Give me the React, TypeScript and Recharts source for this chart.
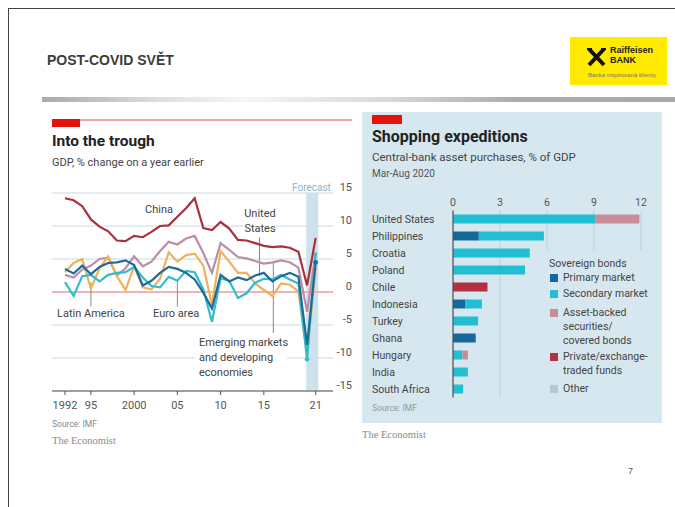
import React from 'react';
import {
  LineChart, Line, XAxis, YAxis, CartesianGrid, ReferenceLine, ReferenceArea,
  BarChart, Bar,
} from 'recharts';

const FONT = 'Roboto, "Liberation Sans", sans-serif';

// GDP, % change on a year earlier
const years = [1992, 1993, 1994, 1995, 1996, 1997, 1998, 1999, 2000, 2001, 2002, 2003, 2004, 2005, 2006,
  2007, 2008, 2009, 2010, 2011, 2012, 2013, 2014, 2015, 2016, 2017, 2018, 2019, 2020, 2021];
const china = [14.2, 13.9, 13.0, 11.0, 9.9, 9.2, 7.8, 7.7, 8.5, 8.3, 9.1, 10.0, 10.1, 11.4, 12.7,
  14.2, 9.7, 9.4, 10.6, 9.6, 7.9, 7.8, 7.4, 7.0, 6.8, 6.9, 6.7, 6.1, 1.0, 8.2];
const emde = [2.6, 2.2, 3.4, 4.0, 5.0, 5.2, 2.5, 3.6, 5.4, 3.9, 4.6, 6.2, 7.6, 7.2, 8.1,
  8.5, 5.9, 2.9, 7.4, 6.4, 5.3, 5.1, 4.7, 4.3, 4.5, 4.8, 4.5, 3.7, -3.0, 5.9];
const latam = [3.0, 4.4, 5.0, 0.5, 3.6, 5.4, 2.4, 0.3, 3.9, 0.7, 0.4, 2.0, 6.0, 4.6, 5.6,
  5.8, 4.0, -2.0, 6.2, 4.6, 2.9, 2.9, 1.3, 0.3, -0.6, 1.3, 1.1, 0.1, -9.4, 3.7];
const euro = [1.5, -0.6, 2.4, 2.6, 1.6, 2.6, 2.9, 3.0, 3.8, 2.2, 0.9, 0.7, 2.3, 1.7, 3.2,
  3.0, 0.4, -4.5, 2.1, 1.7, -0.9, -0.2, 1.4, 2.0, 1.9, 2.6, 1.9, 1.3, -10.2, 6.0];
const us = [3.5, 2.8, 4.0, 2.7, 3.8, 4.4, 4.5, 4.8, 4.1, 1.0, 1.7, 2.9, 3.8, 3.5, 2.9,
  1.9, -0.1, -2.5, 2.6, 1.6, 2.2, 1.8, 2.5, 2.9, 1.6, 2.4, 2.9, 2.3, -8.0, 4.5];
const yearTicks = [1992, 1995, 2000, 2005, 2010, 2015, 2021];
const gdpTicks = [-15, -10, -5, 0, 5, 10, 15];

// Central-bank asset purchases, % of GDP, Mar-Aug 2020
const countries = ['United States', 'Philippines', 'Croatia', 'Poland', 'Chile', 'Indonesia',
  'Turkey', 'Ghana', 'Hungary', 'India', 'South Africa'];
const primary = [0, 1.65, 0, 0, 0, 0.8, 0, 1.45, 0, 0, 0];
const secondary = [9.1, 4.15, 4.9, 4.6, 0, 1.05, 1.6, 0, 0.6, 0.95, 0.65];
const assetBacked = [2.8, 0, 0, 0, 0, 0, 0, 0, 0.35, 0, 0];
const privateFunds = [0, 0, 0, 0, 2.2, 0, 0, 0, 0, 0, 0];
const shareTicks = [0, 3, 6, 9, 12];

const gdpData = years.map((year, i) => ({
  year, china: china[i], emde: emde[i], latam: latam[i], euro: euro[i], us: us[i],
}));
const buyData = countries.map((country, i) => ({
  country, primary: primary[i], secondary: secondary[i], abs: assetBacked[i], priv: privateFunds[i],
}));

const C = {
  china: '#a8303f', emde: '#bd8ca5', latam: '#efb15a', euro: '#2fbccd', us: '#1c6c97',
  primary: '#17689a', secondary: '#22bfd3', abs: '#c98c99', priv: '#b2303f', other: '#b5c8d2',
};

const Txt = ({ x, y, size, children, color = '#333', bold = false, family = FONT, center = false, bg }: any) => (
  <div style={{
    position: 'absolute', left: x, top: y - 0.85 * size, fontSize: size, lineHeight: `${size}px`,
    fontFamily: family, fontWeight: bold ? 700 : 400, color, whiteSpace: 'nowrap',
    transform: center ? 'translateX(-50%)' : undefined, background: bg, zIndex: 3,
  }}>{children}</div>
);

const endDot = (yr: number, color: string) => (p: any) =>
  p.payload.year === yr
    ? <circle key={p.index} cx={p.cx} cy={p.cy} r={2.3} fill={color} stroke="none" />
    : <g key={p.index} />;

const GdpTick = ({ y, payload }: any) => (
  <text x={312} y={y - 2} textAnchor="end" fontSize={11} fill="#555" fontFamily={FONT}>{payload.value}</text>
);

const CountryTick = ({ y, payload }: any) => (
  <text x={9} y={y} dy="0.35em" textAnchor="start" fontSize={10.5} fill="#444" fontFamily={FONT}>{payload.value}</text>
);

const ShareTick = ({ x, payload }: any) => (
  <text x={x} y={16} textAnchor="middle" fontSize={10.5} fill="#555" fontFamily={FONT}>{payload.value}</text>
);

const LegendRow = ({ y, color, lines }: { y: number; color: string; lines: string[] }) => (
  <>
    <div style={{ position: 'absolute', left: 550, top: y - 4, width: 8, height: 8, background: color, zIndex: 3 }} />
    {lines.map((l, i) => <Txt key={l} x={563} y={y + 4 + i * 14} size={10.5} color="#444">{l}</Txt>)}
  </>
);

export default function App() {
  return (
    <div style={{ position: 'fixed', left: 0, top: 0, width: 675, height: 507, overflow: 'hidden', background: '#fff' }}>
      <div style={{ position: 'absolute', left: 8, top: 8, width: 690, height: 520, border: '1px solid #444' }} />

      <Txt x={47} y={65} size={14} bold color="#3c3c3c" family='"Liberation Sans", Arial, sans-serif'>POST-COVID SVĚT</Txt>

      <div style={{ position: 'absolute', left: 570, top: 37, width: 97, height: 48, background: '#ffea00' }}>
        <svg width={97} height={48} style={{ position: 'absolute', left: 0, top: 0 }}>
          <path d="M19 12 L34 28 M34 12 L19 28" stroke="#111" strokeWidth={4} />
          <path d="M17 12 L22 12 M31 12 L36 12" stroke="#111" strokeWidth={2} />
        </svg>
        <div style={{ position: 'absolute', left: 40, top: 9, fontSize: 9, fontWeight: 700, fontFamily: '"Liberation Sans", sans-serif', lineHeight: '9px', color: '#222' }}>Raiffeisen</div>
        <div style={{ position: 'absolute', left: 40, top: 19, fontSize: 9, fontWeight: 700, fontFamily: '"Liberation Sans", sans-serif', lineHeight: '9px', color: '#222' }}>BANK</div>
        <div style={{ position: 'absolute', left: 18, top: 35, fontSize: 6, color: '#777', fontFamily: '"Liberation Sans", sans-serif', lineHeight: '6px', whiteSpace: 'nowrap' }}>Banka inspirovaná klienty</div>
      </div>

      <div style={{
        position: 'absolute', left: 42, top: 97, width: 633, height: 5,
        background: 'linear-gradient(to right, #a9a9a9 0%, #e2e2e2 20%, #f6f6f6 32%, #d8d8d8 55%, #ababab 75%, #aaaaaa 100%)',
      }} />

      {/* Left chart: Into the trough */}
      <div style={{ position: 'absolute', left: 52, top: 119, width: 28, height: 8, background: '#e3120b' }} />
      <div style={{ position: 'absolute', left: 80, top: 119, width: 272, height: 1.5, background: '#f2a2a2' }} />
      <Txt x={52} y={147} size={15.5} bold color="#222">Into the trough</Txt>
      <Txt x={52} y={166} size={11} color="#444">GDP, % change on a year earlier</Txt>
      <Txt x={292} y={191} size={10} color="#8db3c8">Forecast</Txt>

      <div style={{ position: 'absolute', left: 40, top: 180 }}>
        <LineChart width={320} height={240} data={gdpData} margin={{ top: 13, right: 0, bottom: 0, left: 12 }}>
          <CartesianGrid vertical={false} stroke="#c9d9e1" strokeWidth={1} />
          <ReferenceArea x1={2019.9} x2={2021.3} y1={-15} y2={15} fill="#cfe2ec" fillOpacity={1} stroke="none" />
          <XAxis type="number" dataKey="year" domain={[1990.5, 2023]} ticks={yearTicks} allowDataOverflow
            tickFormatter={(v: number) => (v === 1992 || v === 2000 ? String(v) : String(v).slice(2))}
            axisLine={{ stroke: '#555' }} tickLine={{ stroke: '#555' }} tickSize={4} tickMargin={6} height={29}
            tick={{ fontSize: 11, fill: '#555', fontFamily: FONT }} interval={0} />
          <YAxis orientation="right" type="number" domain={[-15, 15]} ticks={gdpTicks} width={27}
            axisLine={false} tickLine={false} tick={<GdpTick />} interval={0} />
          <ReferenceLine y={0} stroke="#f3a0a0" strokeWidth={1.5} />
          <ReferenceLine segment={[{ x: 1995, y: 1.5 }, { x: 1995, y: -2.2 }]} stroke="#888" />
          <ReferenceLine segment={[{ x: 2005, y: 1.8 }, { x: 2005, y: -2.2 }]} stroke="#888" />
          <ReferenceLine segment={[{ x: 2014.5, y: 8.3 }, { x: 2014.5, y: 2.4 }]} stroke="#888" />
          <ReferenceLine segment={[{ x: 2016.1, y: 4.5 }, { x: 2016.1, y: -6.4 }]} stroke="#888" />
          <Line dataKey="emde" stroke={C.emde} strokeWidth={2.2} dot={false} isAnimationActive={false} />
          <Line dataKey="latam" stroke={C.latam} strokeWidth={2.2} dot={false} isAnimationActive={false} />
          <Line dataKey="euro" stroke={C.euro} strokeWidth={2.2} dot={endDot(2020, C.euro)} isAnimationActive={false} />
          <Line dataKey="us" stroke={C.us} strokeWidth={2.2} dot={endDot(2021, C.us)} isAnimationActive={false} />
          <Line dataKey="china" stroke={C.china} strokeWidth={2.2} dot={false} isAnimationActive={false} />
        </LineChart>
      </div>

      <Txt x={145} y={213} size={11} color="#444">China</Txt>
      <Txt x={260} y={217} size={11} color="#444" center bg="#fff">United</Txt>
      <Txt x={260} y={232} size={11} color="#444" center bg="#fff">States</Txt>
      <Txt x={57} y={317} size={11} color="#444">Latin America</Txt>
      <Txt x={153} y={317} size={11} color="#444">Euro area</Txt>
      <div style={{ position: 'absolute', left: 195, top: 333, width: 92, height: 44, background: '#fff', zIndex: 2 }} />
      <Txt x={199} y={346} size={11} color="#444">Emerging markets</Txt>
      <Txt x={199} y={361} size={11} color="#444">and developing</Txt>
      <Txt x={199} y={376} size={11} color="#444">economies</Txt>
      <Txt x={52} y={427} size={8.5} color="#888">Source: IMF</Txt>
      <Txt x={52} y={445} size={10.5} color="#888" family='"Liberation Serif", serif'>The Economist</Txt>

      {/* Right chart: Shopping expeditions */}
      <div style={{ position: 'absolute', left: 362, top: 112, width: 300, height: 311, background: '#d7e7ef' }} />
      <div style={{ position: 'absolute', left: 372, top: 115, width: 30, height: 9, background: '#e3120b' }} />
      <Txt x={372} y={143} size={16} bold color="#222">Shopping expeditions</Txt>
      <Txt x={372} y={162} size={11.5} color="#444">Central-bank asset purchases, % of GDP</Txt>
      <Txt x={372} y={177} size={10} color="#555">Mar-Aug 2020</Txt>

      <div style={{ position: 'absolute', left: 363, top: 190 }}>
        <BarChart width={300} height={210} data={buyData} layout="vertical" barSize={9}
          margin={{ top: 0.5, right: 22, bottom: 2.5, left: 0 }}>
          <CartesianGrid horizontal={false} stroke="#bfd0d8" />
          <XAxis type="number" orientation="top" domain={[0, 12]} ticks={shareTicks} height={20}
            axisLine={false} tickLine={false} tick={<ShareTick />} interval={0} />
          <YAxis type="category" dataKey="country" width={90} axisLine={false} tickLine={false}
            tick={<CountryTick />} interval={0} />
          <Bar dataKey="primary" stackId="a" fill={C.primary} isAnimationActive={false} />
          <Bar dataKey="secondary" stackId="a" fill={C.secondary} isAnimationActive={false} />
          <Bar dataKey="abs" stackId="a" fill={C.abs} isAnimationActive={false} />
          <Bar dataKey="priv" stackId="a" fill={C.priv} isAnimationActive={false} />
          <ReferenceLine x={0} stroke="#555" strokeWidth={1.2} />
        </BarChart>
      </div>

      <div style={{ position: 'absolute', left: 544, top: 250, width: 116, height: 150, background: '#d7e7ef', zIndex: 2 }} />
      <Txt x={549} y={268} size={10.5} color="#444">Sovereign bonds</Txt>
      <LegendRow y={278} color={C.primary} lines={['Primary market']} />
      <LegendRow y={294} color={C.secondary} lines={['Secondary market']} />
      <LegendRow y={313} color={C.abs} lines={['Asset-backed', 'securities/', 'covered bonds']} />
      <LegendRow y={357} color={C.priv} lines={['Private/exchange-', 'traded funds']} />
      <LegendRow y={389} color={C.other} lines={['Other']} />
      <Txt x={372} y={411} size={8.5} color="#8a9aa3">Source: IMF</Txt>
      <Txt x={362} y={439} size={10.5} color="#888" family='"Liberation Serif", serif'>The Economist</Txt>

      <Txt x={628} y={475} size={9} color="#555" family='"Liberation Sans", sans-serif'>7</Txt>
    </div>
  );
}
